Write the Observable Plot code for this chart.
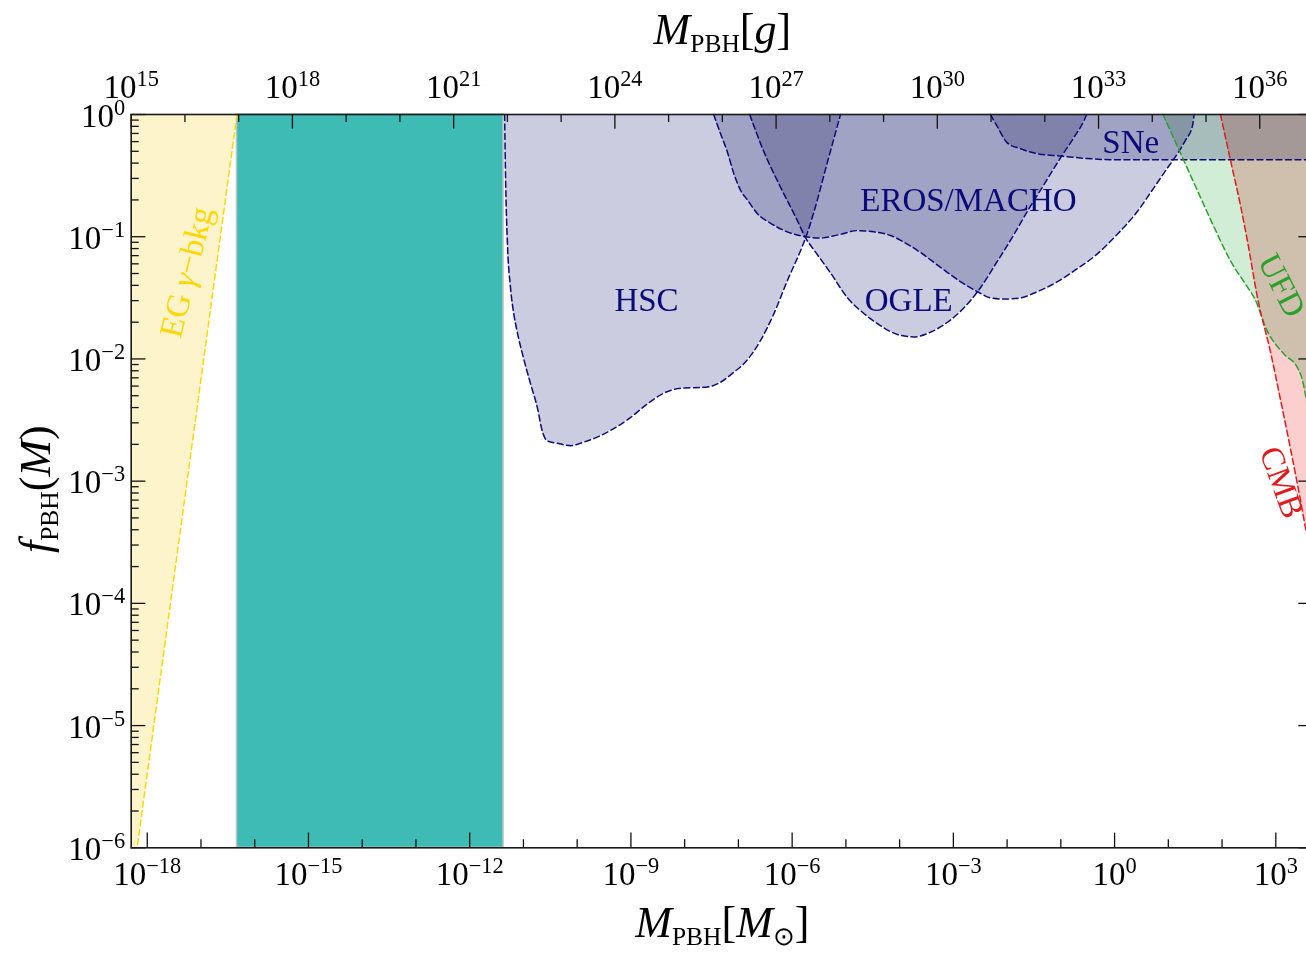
<!DOCTYPE html>
<html><head><meta charset="utf-8">
<script src="https://cdn.jsdelivr.net/npm/d3@7"></script>
<script src="https://cdn.jsdelivr.net/npm/@observablehq/plot@0.6"></script>
<style>
html,body{margin:0;padding:0;overflow:hidden;background:#fff;}
#chart svg{max-width:none !important;display:block;}
</style></head><body><div id="chart"></div>
<script>
// ---------- data ----------
const MSUN_G = 1.989e33;              // grams per solar mass
const X_DOMAIN_G = [1e15, 1e37];      // x range in grams
const Y_DOMAIN = [1e-6, 1];
const bottomTickExps = [-18, -15, -12, -9, -6, -3, 0, 3];
const topTickExps = [15, 18, 21, 24, 27, 30, 33, 36];
const yTickExps = [0, -1, -2, -3, -4, -5, -6];

// constraint boundaries: log10(M/Msun), log10(f_PBH)
const EG_logM = [-18.30, -16.33];
const EG_logf = [-6.36, 0];
const BAND_logM = [-16.33, -11.37];
const HSC_logM = [-11.35,-11.33,-11.30,-11.24,-11.18,-11.12,-11.00,-10.87,-10.74,-10.65,-10.56,-10.37,-10.12,-9.88,-9.63,-9.32,-9.01,-8.70,-8.39,-8.08,-7.58,-7.33,-7.09,-6.90,-6.59,-6.34,-6.09,-5.84,-5.75,-5.59,-5.35,-5.10];
const HSC_logf = [0,-0.57,-1.03,-1.42,-1.63,-1.77,-1.99,-2.20,-2.40,-2.59,-2.67,-2.69,-2.71,-2.68,-2.64,-2.57,-2.48,-2.37,-2.28,-2.24,-2.23,-2.19,-2.11,-2.04,-1.85,-1.63,-1.36,-1.11,-1.01,-0.79,-0.40,0];
const OGLE_logM = [-6.79,-6.53,-6.21,-5.90,-5.75,-5.59,-5.28,-4.97,-4.66,-4.35,-4.04,-3.73,-3.42,-3.11,-2.80,-2.55,-2.18,-1.87,-1.62,-1.31,-1.00,-0.76,-0.57,-0.52];
const OGLE_logf = [0,-0.30,-0.60,-0.87,-1.01,-1.11,-1.30,-1.50,-1.63,-1.73,-1.80,-1.82,-1.78,-1.70,-1.58,-1.45,-1.20,-0.98,-0.79,-0.57,-0.35,-0.19,-0.05,0];
const EROS_logM = [-7.46,-7.33,-7.21,-7.08,-6.96,-6.83,-6.65,-6.40,-6.09,-5.75,-5.47,-5.10,-4.79,-4.48,-4.17,-3.98,-3.61,-3.24,-2.86,-2.55,-2.31,-2.06,-1.75,-1.44,-1.07,-0.69,-0.32,0.05,0.43,0.73,0.98,1.17,1.32,1.45,1.48];
const EROS_logf = [0,-0.16,-0.30,-0.49,-0.62,-0.70,-0.81,-0.89,-0.96,-1.00,-1.01,-0.98,-0.95,-0.96,-0.99,-1.03,-1.13,-1.25,-1.37,-1.45,-1.50,-1.51,-1.50,-1.45,-1.37,-1.26,-1.14,-0.98,-0.79,-0.60,-0.44,-0.32,-0.21,-0.09,0];
const SNE_logM = [-2.31,-2.18,-2.00,-1.75,-1.44,-1.00,-0.51,-0.01,0.43,1.17,3.70];
const SNE_logf = [0,-0.10,-0.23,-0.28,-0.32,-0.34,-0.36,-0.37,-0.37,-0.37,-0.37];
const UFD_logM = [0.90,1.23,1.60,1.85,2.16,2.47,2.60,2.84,3.15,3.40,3.50,3.56,3.70];
const UFD_logf = [0,-0.32,-0.68,-0.92,-1.20,-1.41,-1.50,-1.77,-1.96,-2.07,-2.18,-2.31,-2.63];
const CMB_logM = [1.97,2.16,2.35,2.47,2.66,2.91,3.09,3.28,3.46,3.56,3.70];
const CMB_logf = [0,-0.38,-0.76,-1.03,-1.50,-1.96,-2.34,-2.75,-3.16,-3.40,-3.71];

// region labels
const labelNames = ["EG *γ*−bkg", "HSC", "OGLE", "EROS/MACHO", "SNe", "UFD", "CMB"];
const labelLogM = [-17.27, -8.71, -3.83, -2.72, 0.30, 3.11, 3.11];
const labelLogf = [-1.29, -1.52, -1.52, -0.70, -0.23, -1.40, -3.01];

// ---------- styles ----------
const NAVY = "#0a0a78", GOLD = "#ffd700", GREEN = "#2ca02c", RED = "#e31a1c";
const labelStyle = [
  {fill: GOLD, rotate: -76}, {fill: NAVY, rotate: 0}, {fill: NAVY, rotate: 0},
  {fill: NAVY, rotate: 0}, {fill: NAVY, rotate: 0}, {fill: GREEN, rotate: 63}, {fill: RED, rotate: 70}
];
const FONT = "Liberation Serif, Times New Roman, serif";
const W = 1313, H = 953, ML = 130.7, MR = 0, MT = 114, MB = 105.7;
const FH = H - MT - MB, FW = W - ML - MR;
const MAJ = 14.7, MIN = 8;

const pts = (lm, lf) => lm.map((m, i) => ({M: 10 ** m, f: 10 ** lf[i]}));
const expLabel = e => `10^{${e < 0 ? "−" + (-e) : e}}`;
const xDomain = X_DOMAIN_G.map(g => g / MSUN_G);

const fillArea = (data, fill) => Plot.areaY(data, {x: "M", y1: "f", y2: 1, curve: "monotone-x", fill, mixBlendMode: "multiply"});
const dashLine = (data, stroke) => Plot.line(data, {x: "M", y: "f", curve: "monotone-x", stroke, strokeWidth: 1.5, strokeDasharray: "6,3.5"});

const EG = pts(EG_logM, EG_logf), HSC = pts(HSC_logM, HSC_logf), OGLE = pts(OGLE_logM, OGLE_logf),
      EROS = pts(EROS_logM, EROS_logf), SNE = pts(SNE_logM, SNE_logf), UFD = pts(UFD_logM, UFD_logf),
      CMB = pts(CMB_logM, CMB_logf);

// tick positions
const bottomMinor = d3.range(-18, 4).filter(e => !bottomTickExps.includes(e));
const topMinor = d3.range(15, 38).filter(e => !topTickExps.includes(e));
const yMinor = d3.range(-6, 0).flatMap(k => d3.range(2, 10).map(m => m * 10 ** k));
const tickStyle = {stroke: "#111", strokeWidth: 1.3};

const plot = Plot.plot({
  width: W, height: H,
  marginLeft: ML, marginRight: MR, marginTop: MT, marginBottom: MB,
  style: {fontFamily: FONT, maxWidth: "none", background: "white", color: "black"},
  x: {type: "log", domain: xDomain, axis: null},
  y: {type: "log", domain: Y_DOMAIN, axis: null},
  marks: [
    // filled exclusion regions
    Plot.areaY(EG, {x: "M", y1: "f", y2: 1, fill: "#fef4cb", clip: true}),
    Plot.rect([0], {x1: () => 10 ** BAND_logM[0], x2: () => 10 ** BAND_logM[1], y1: Y_DOMAIN[0], y2: Y_DOMAIN[1], fill: "#3fbbb6", stroke: "#b4c6c5", strokeWidth: 1.5}),
    fillArea(HSC, "#cbcce0"),
    fillArea(EROS, "#cbcce0"),
    fillArea(OGLE, "#cbcce0"),
    fillArea(SNE, "#cbcce0"),
    fillArea(UFD, "#d2edd6"),
    fillArea(CMB, "#facfcd"),
    // boundaries
    Plot.line(EG, {x: "M", y: "f", stroke: GOLD, strokeWidth: 1.5, strokeDasharray: "6,3.5", clip: true}),
    dashLine(HSC, NAVY), dashLine(EROS, NAVY), dashLine(OGLE, NAVY), dashLine(SNE, NAVY),
    dashLine(UFD, GREEN), dashLine(CMB, RED),
    // region labels
    ...labelNames.map((t, i) => Plot.text([t], {
      x: () => 10 ** labelLogM[i], y: () => 10 ** labelLogf[i], text: d => d,
      fill: labelStyle[i].fill, rotate: labelStyle[i].rotate, fontSize: 33, fontFamily: FONT
    })),
    // ticks
    Plot.ruleX(bottomTickExps, {x: e => 10 ** e, insetTop: FH - MAJ, ...tickStyle}),
    Plot.ruleX(bottomMinor, {x: e => 10 ** e, insetTop: FH - MIN, ...tickStyle}),
    Plot.ruleX(topTickExps, {x: e => 10 ** e / MSUN_G, insetBottom: FH - MAJ, ...tickStyle}),
    Plot.ruleX(topMinor, {x: e => 10 ** e / MSUN_G, insetBottom: FH - MIN, ...tickStyle}),
    Plot.ruleY(yTickExps, {y: e => 10 ** e, insetRight: FW - MAJ, ...tickStyle}),
    Plot.ruleY(yMinor, {y: d => d, insetRight: FW - MIN, ...tickStyle}),
    Plot.ruleY(yTickExps, {y: e => 10 ** e, insetLeft: FW - MAJ, ...tickStyle}),
    Plot.frame({stroke: "#1a1a1a", strokeWidth: 1.6}),
    // tick labels
    Plot.text(bottomTickExps, {x: e => 10 ** e, text: expLabel, frameAnchor: "bottom", lineAnchor: "bottom", dy: 36.7, fontSize: 33, fill: "black"}),
    Plot.text(topTickExps, {x: e => 10 ** e / MSUN_G, text: expLabel, frameAnchor: "top", lineAnchor: "bottom", dy: -17, fontSize: 33, fill: "black"}),
    Plot.text(yTickExps, {y: e => 10 ** e, text: expLabel, frameAnchor: "left", textAnchor: "end", lineAnchor: "bottom", dx: -6, dy: 12, fontSize: 33, fill: "black"}),
    // axis titles
    Plot.text(["*M*_{PBH}[*g*]"], {text: d => d, frameAnchor: "top", textAnchor: "middle", lineAnchor: "middle", dy: -85, fontSize: 44, fill: "black"}),
    Plot.text(["*M*_{PBH}[*M*_{⊙}]"], {text: d => d, frameAnchor: "bottom", textAnchor: "middle", lineAnchor: "middle", dy: 75, fontSize: 44, fill: "black"}),
    Plot.text(["*f*_{PBH}(*M*)"], {text: d => d, frameAnchor: "left", textAnchor: "middle", lineAnchor: "middle", dx: -95.7, dy: 8, rotate: -90, fontSize: 44, fill: "black"})
  ]
});
document.getElementById("chart").append(plot);

// rich text: ^{sup}, _{sub}, *italic*
function richify(el) {
  const s = el.textContent;
  if (!/[\^_*]/.test(s)) return;
  const fs = parseFloat(getComputedStyle(el).fontSize) || 33;
  const parts = [];
  let italic = false, buf = "", i = 0;
  const flush = () => { if (buf) parts.push({t: buf, m: "n", it: italic}); buf = ""; };
  while (i < s.length) {
    const c = s[i];
    if ((c === "^" || c === "_") && s[i + 1] === "{") {
      flush();
      const j = s.indexOf("}", i + 2);
      parts.push({t: s.slice(i + 2, j), m: c === "^" ? "sup" : "sub", it: false});
      i = j + 1;
    } else if (c === "*") { flush(); italic = !italic; i++; }
    else { buf += c; i++; }
  }
  flush();
  el.textContent = "";
  let cur = 0;
  for (const p of parts) {
    const target = p.m === "sup" ? -0.36 * fs : p.m === "sub" ? 0.18 * fs : 0;
    const ts = document.createElementNS("http://www.w3.org/2000/svg", "tspan");
    if (target !== cur) ts.setAttribute("dy", (target - cur).toFixed(2));
    cur = target;
    if (p.m === "sup") ts.setAttribute("font-size", (0.68 * fs).toFixed(1));
    if (p.m === "sub") ts.setAttribute("font-size", (0.58 * fs).toFixed(1));
    if (p.it) ts.setAttribute("font-style", "italic");
    ts.textContent = p.t;
    el.appendChild(ts);
  }
}
plot.querySelectorAll("text").forEach(richify);
</script></body></html>
